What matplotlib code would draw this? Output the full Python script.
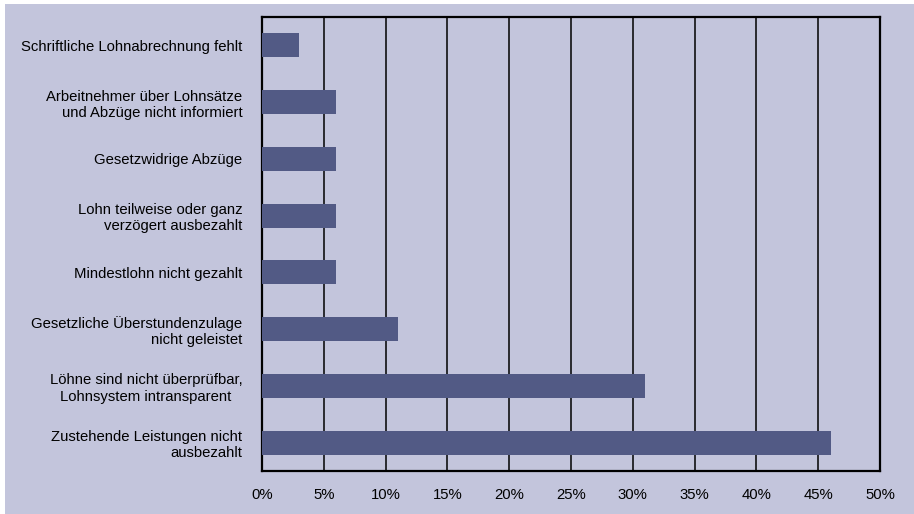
import matplotlib
matplotlib.use("Agg")
import matplotlib.pyplot as plt
from matplotlib.patches import Rectangle
from matplotlib.ticker import FuncFormatter

plt.rcParams['font.family'] = ['Liberation Sans', 'DejaVu Sans']

categories = [
    "Schriftliche Lohnabrechnung fehlt",
    "Arbeitnehmer über Lohnsätze\nund Abzüge nicht informiert",
    "Gesetzwidrige Abzüge",
    "Lohn teilweise oder ganz\nverzögert ausbezahlt",
    "Mindestlohn nicht gezahlt",
    "Gesetzliche Überstundenzulage\nnicht geleistet",
    "Löhne sind nicht überprüfbar,\nLohnsystem intransparent",
    "Zustehende Leistungen nicht\nausbezahlt",
]
values = [3, 6, 6, 6, 6, 11, 31, 46]
xticks = [0, 5, 10, 15, 20, 25, 30, 35, 40, 45, 50]
label_align = ["right", "right", "right", "right", "right", "right", "center", "right"]

bg = "#c3c5dc"
bar_color = "#525a85"

fig = plt.figure(figsize=(9.14, 5.14), dpi=100, facecolor="white")
fig.patches.append(Rectangle((5 / 914, 0), 1 - 5 / 914, 1 - 4 / 514,
                             transform=fig.transFigure, facecolor=bg,
                             edgecolor="none", zorder=-10))

ax = fig.add_axes([262 / 914, 1 - 471 / 514, (880 - 262) / 914, (471 - 17) / 514])
ax.set_facecolor(bg)

y = list(range(len(categories)))
ax.barh(y, values, height=0.42, color=bar_color, zorder=3)

ax.set_xlim(0, 50)
ax.set_ylim(len(categories) - 0.5, -0.5)
ax.set_xticks(xticks)
ax.xaxis.set_major_formatter(FuncFormatter(lambda v, p: f"{v:.0f}%"))
ax.set_yticks(y)
for lbl, al in zip(ax.set_yticklabels(categories), label_align):
    lbl.set_multialignment(al)
ax.tick_params(axis="both", length=0, labelsize=10.7, colors="black")
ax.tick_params(axis="x", pad=12)
ax.tick_params(axis="y", pad=14)

for v in xticks[1:-1]:
    ax.axvline(v, color="black", linewidth=1.1, zorder=2)

for s in ax.spines.values():
    s.set_color("black")
    s.set_linewidth(1.6)

fig.savefig("out.png", dpi=100, facecolor=fig.get_facecolor())
